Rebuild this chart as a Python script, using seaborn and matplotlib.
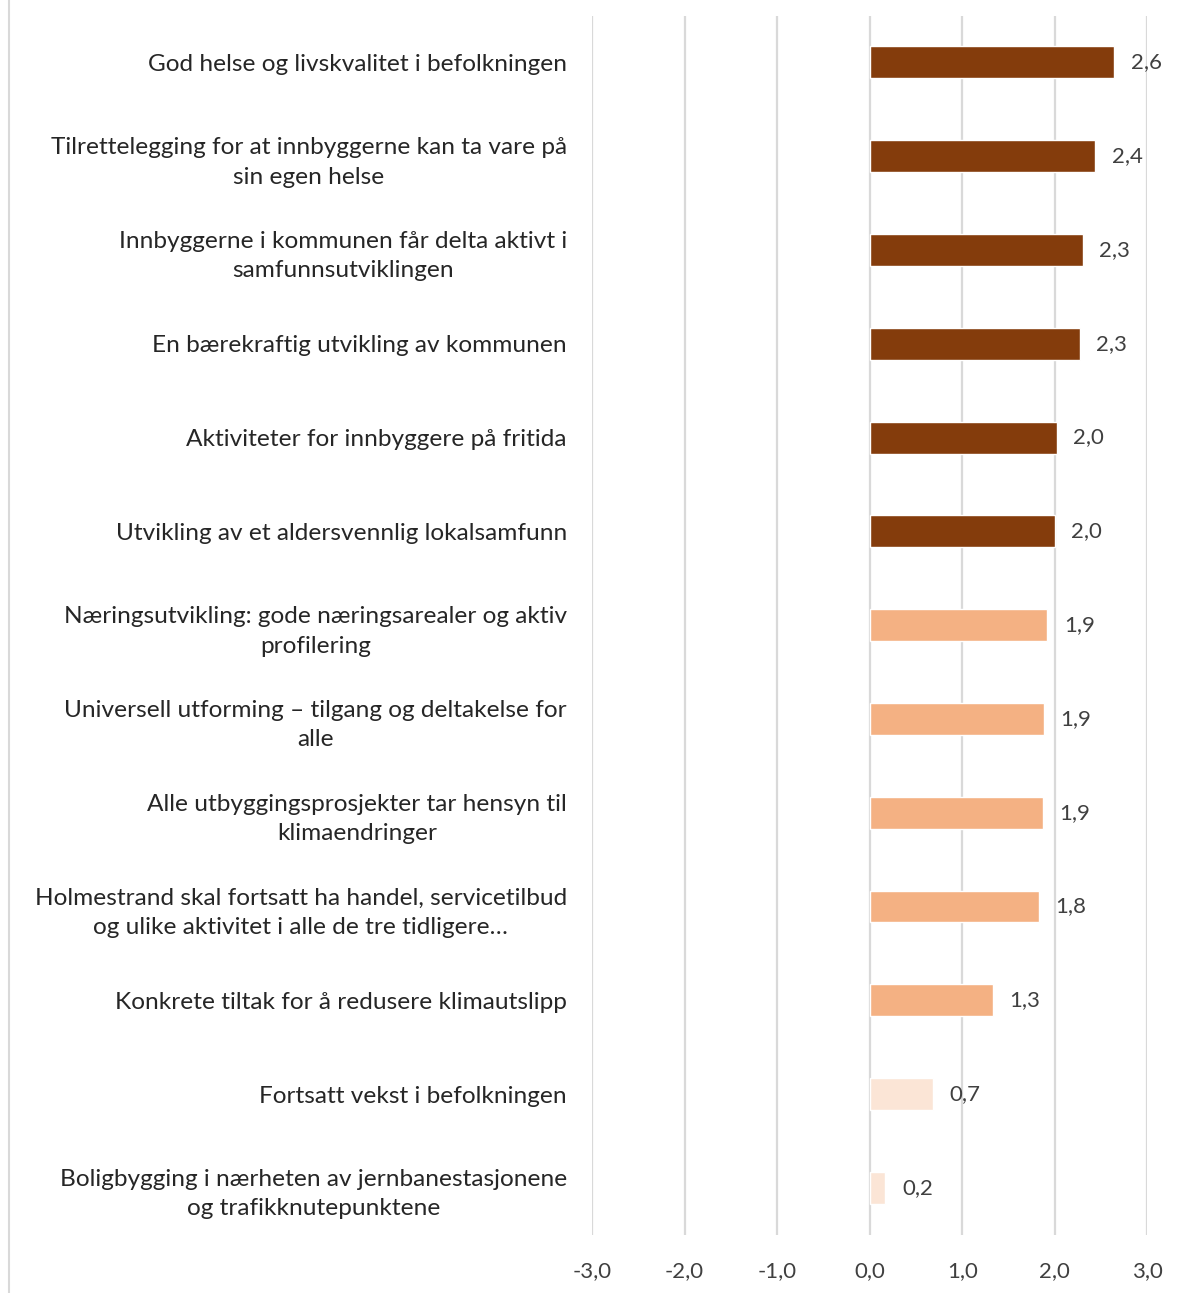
import seaborn as sns
import matplotlib.pyplot as plt
import pandas as pd
from matplotlib.lines import Line2D

labels = [
    "God helse og livskvalitet i befolkningen",
    "Tilrettelegging for at innbyggerne kan ta vare på\nsin egen helse",
    "Innbyggerne i kommunen får delta aktivt i\nsamfunnsutviklingen",
    "En bærekraftig utvikling av kommunen",
    "Aktiviteter for innbyggere på fritida",
    "Utvikling av et aldersvennlig lokalsamfunn",
    "Næringsutvikling: gode næringsarealer og aktiv\nprofilering",
    "Universell utforming \u2013 tilgang og deltakelse for\nalle",
    "Alle utbyggingsprosjekter tar hensyn til\nklimaendringer",
    "Holmestrand skal fortsatt ha handel, servicetilbud\nog ulike aktivitet i alle de tre tidligere\u2026",
    "Konkrete tiltak for å redusere klimautslipp",
    "Fortsatt vekst i befolkningen",
    "Boligbygging i nærheten av jernbanestasjonene\nog trafikknutepunktene",
]
values = [2.64, 2.44, 2.30, 2.27, 2.02, 2.00, 1.92, 1.88, 1.87, 1.83, 1.33, 0.68, 0.17]
groups = ["høy"] * 6 + ["middels"] * 5 + ["lav"] * 2
palette = {"høy": "#843C0C", "middels": "#F4B183", "lav": "#FBE5D6"}
ticks = [-3, -2, -1, 0, 1, 2, 3]

df = pd.DataFrame({"label": labels, "value": values, "group": groups})

sns.set_style("white")
plt.rcParams["font.family"] = ["Lato", "DejaVu Sans"]

fig = plt.figure(figsize=(11.84, 12.93), dpi=100)
ax = fig.add_axes([0.5, 0.045, 0.469, 0.943])

sns.barplot(data=df, x="value", y="label", hue="group", palette=palette,
            saturation=1, dodge=False, width=0.34, legend=False, ax=ax,
            orient="h")

ax.set_xlim(-3, 3)
ax.set_xticks(ticks)
ax.set_xticklabels([f"{t:.1f}".replace(".", ",") for t in ticks],
                   fontsize=16, color="#404040")
ax.grid(axis="x", color="#d9d9d9", linewidth=1.6)
ax.set_axisbelow(True)
for s in ax.spines.values():
    s.set_visible(False)
ax.tick_params(axis="both", length=0)
ax.tick_params(axis="x", pad=19)
ax.tick_params(axis="y", pad=18)
for t in ax.get_yticklabels():
    t.set_fontsize(17.6)
    t.set_color("#262626")
    t.set_multialignment("center")
    t.set_linespacing(1.5)
ax.set_xlabel("")
ax.set_ylabel("")

for i, v in enumerate(values):
    ax.annotate(f"{v:.1f}".replace(".", ","), (v, i), xytext=(12, 0),
                textcoords="offset points", va="center", ha="left",
                fontsize=16, color="#404040")

fig.add_artist(Line2D([0.008, 0.008], [0.0, 1.0], color="#d9d9d9",
                      linewidth=1.5, transform=fig.transFigure))

fig.savefig("out.png", dpi=100, facecolor="white")
